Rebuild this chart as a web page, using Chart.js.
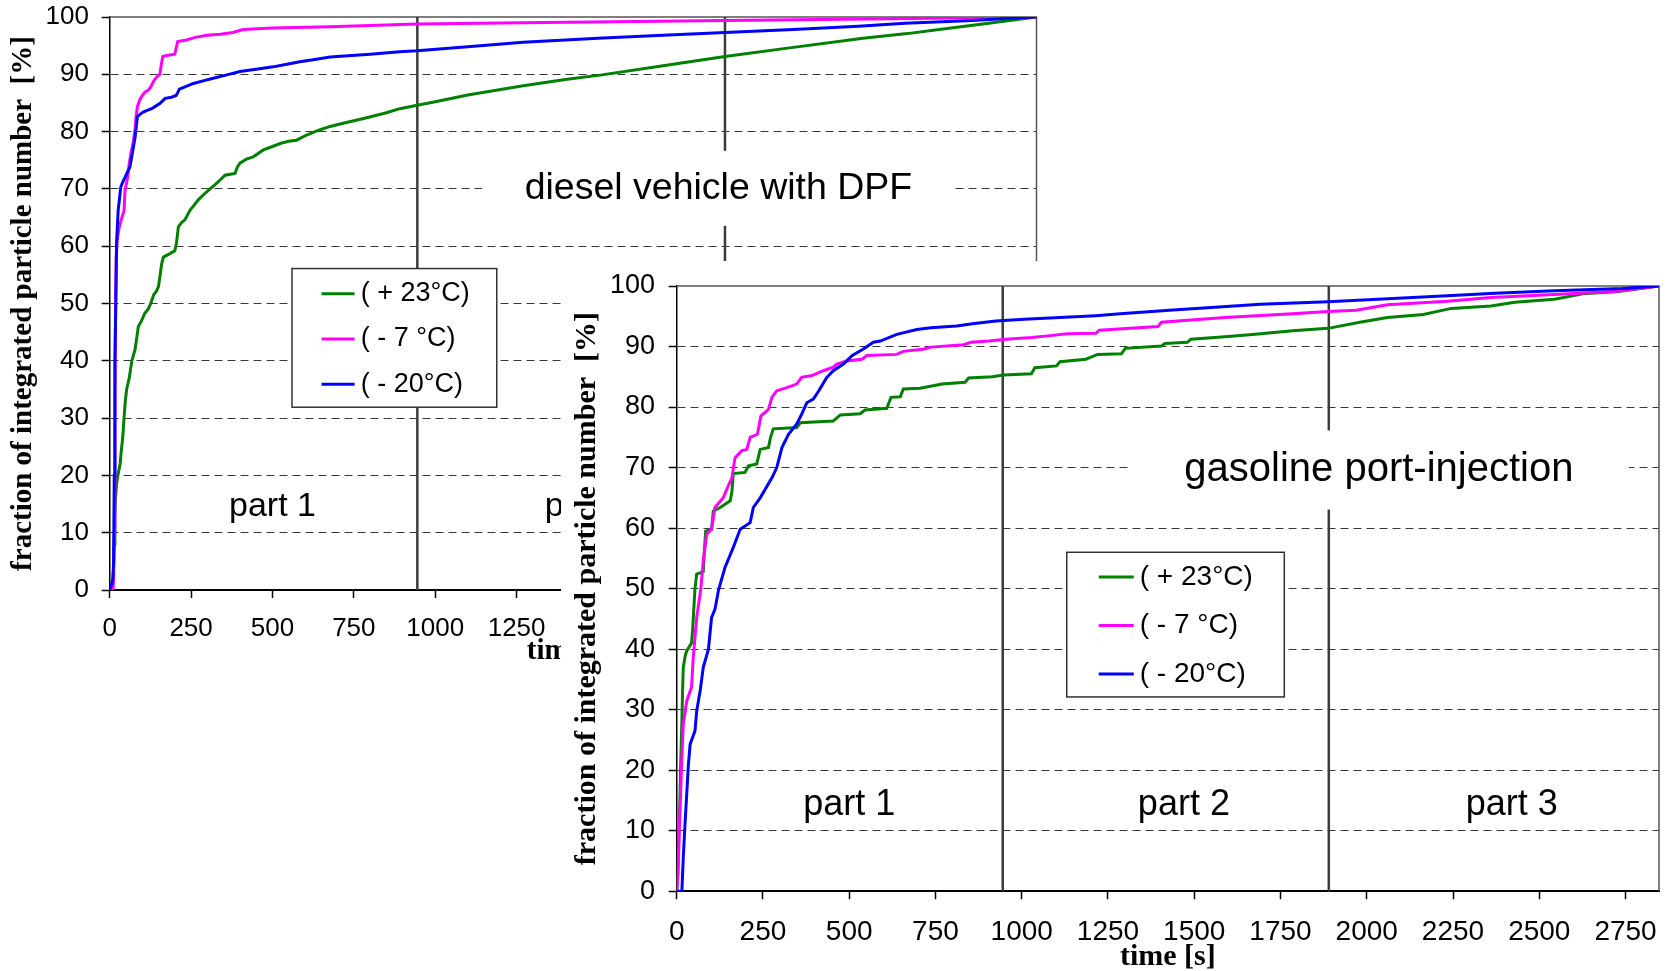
<!DOCTYPE html>
<html><head><meta charset="utf-8">
<script src="https://cdn.jsdelivr.net/npm/chart.js@4.4.0/dist/chart.umd.min.js"></script>
<style>
html,body{margin:0;padding:0;background:#fff;width:1672px;height:971px;overflow:hidden;position:relative}
canvas{position:absolute;display:block}
#c1{left:0;top:0}
#c2{left:561px;top:261px;background:#fff}
</style></head><body>
<canvas id="c1" width="1060" height="680"></canvas>
<canvas id="c2" width="1111" height="710"></canvas>
<script>
// ---------------- data ----------------
const seriesLabels = ['( + 23°C)', '( - 7 °C)', '( - 20°C)'];
const seriesColors = ['#008000', '#FF00FF', '#0000FF'];
const xTicks = [0, 250, 500, 750, 1000, 1250, 1500, 1750, 2000, 2250, 2500, 2750];
const yTicks = [0, 10, 20, 30, 40, 50, 60, 70, 80, 90, 100];
const xMax = 2847;
const partBounds = [945, 1890];
const partLabels = ['part 1', 'part 2', 'part 3'];
const partLabelX = [500, 1470, 2420];

// diesel vehicle with DPF  [time s, fraction %]
const dieselP23 = [[0,0],[8,0.5],[12,4],[14,8],[16,13],[18,16],[21,18.4],[25,20],[32,22],[36,24.5],[40,26.6],[44,30],[48,33],[52,35],[60,37],[68,40],[73,41],[78,42],[88,46],[98,47],[108,48.3],[118,49],[126,50],[135,51.5],[144,52.2],[150,53],[154,54.6],[160,57],[165,58.1],[185,58.7],[200,59.2],[205,60.5],[211,63.4],[222,64.2],[231,64.6],[247,66.3],[260,67.2],[272,68.1],[285,68.8],[298,69.5],[310,70.1],[323,70.7],[340,71.6],[354,72.4],[385,72.7],[392,73.8],[400,74.5],[420,75.2],[441,75.6],[472,76.8],[500,77.4],[528,78],[550,78.3],[574,78.5],[605,79.4],[640,80.2],[677,80.9],[720,81.5],[780,82.3],[850,83.3],[891,84.0],[945,84.6],[1000,85.2],[1100,86.4],[1270,88.0],[1400,89.1],[1512,89.9],[1700,91.5],[1890,93.1],[2100,94.7],[2314,96.3],[2450,97.1],[2572,98.0],[2700,98.9],[2805,99.7],[2847,100]];
const dieselM7 = [[0,0],[10,0],[12,2],[14,10],[16,30],[18,50.5],[20,58],[23,61],[28,63],[35,64.5],[44,66.2],[47,69.7],[55,72],[60,74.4],[66,76.5],[72,78],[78,80.5],[81,82.6],[85,84.3],[92,85.5],[98,86.1],[108,86.9],[118,87.2],[124,87.6],[137,89],[146,89.6],[154,90],[158,91.5],[163,93.1],[175,93.3],[190,93.4],[200,93.5],[205,94.8],[209,95.7],[236,96.0],[260,96.4],[298,96.8],[340,97.0],[379,97.3],[410,97.8],[500,98.1],[677,98.3],[945,98.8],[1270,99.0],[1890,99.4],[2400,99.7],[2847,100]];
const dieselM20 = [[0,0],[6,1],[10,2],[12,5],[14,20],[16,40],[19,50.5],[21,60.5],[26,66.2],[34,70.3],[40,71.2],[47,72],[55,73],[62,73.8],[71,76.7],[78,79],[82,81],[85,82.6],[95,83.1],[103,83.4],[115,83.7],[129,84],[140,84.4],[154,84.9],[165,85.5],[170,85.8],[190,86],[204,86.3],[209,86.8],[214,87.4],[235,87.9],[257,88.4],[290,88.9],[318,89.3],[360,89.9],[400,90.5],[450,90.9],[502,91.3],[540,91.7],[584,92.2],[630,92.6],[677,93.0],[800,93.5],[891,93.95],[945,94.1],[1100,94.8],[1270,95.6],[1500,96.3],[1700,96.8],[1890,97.3],[2100,97.8],[2300,98.4],[2443,98.9],[2650,99.4],[2805,99.9],[2847,100]];

// gasoline port-injection  [time s, fraction %]
const gasP23 = [[0,0],[3,3],[8,12],[12,22],[15,28],[17,33],[19,37],[25,39],[29,39.7],[43,41],[46,43],[48,45],[53,50],[58,52.4],[77,52.8],[80,56],[84,59.5],[101,59.8],[106,62.8],[126,63.4],[155,64.5],[160,66],[164,69],[198,69.2],[208,70.3],[232,70.6],[242,73],[266,73.3],[272,75],[280,76.4],[348,76.6],[358,77.4],[454,77.7],[474,78.7],[532,78.9],[546,79.5],[609,79.8],[621,81.6],[648,81.7],[657,83.0],[706,83.1],[769,83.8],[836,84.1],[846,84.8],[915,85.0],[946,85.3],[1028,85.5],[1038,86.5],[1101,86.8],[1111,87.5],[1186,87.9],[1220,88.7],[1289,88.8],[1300,89.7],[1405,90.1],[1415,90.5],[1480,90.7],[1490,91.2],[1589,91.6],[1669,92.0],[1785,92.6],[1888,93.0],[1980,94.0],[2060,94.8],[2164,95.3],[2245,96.3],[2360,96.7],[2429,97.3],[2544,97.8],[2626,98.7],[2729,99.1],[2820,99.8],[2847,100]];
const gasM7 = [[0,0],[4,3],[8,11],[15,22],[19,27.6],[29,31.4],[43,33.7],[48,38.6],[58,45.2],[70,50],[77,54.6],[87,59],[101,59.8],[111,63.4],[135,65],[145,66.4],[160,68.3],[169,71.6],[189,72.8],[203,73],[213,75],[234,75.5],[244,78.5],[266,79.6],[276,81.6],[290,82.7],[319,83.2],[348,83.8],[362,84.9],[392,85.2],[425,86.0],[454,86.6],[464,87.1],[493,87.6],[537,87.9],[551,88.5],[638,88.7],[657,89.2],[718,89.6],[737,89.9],[832,90.3],[853,90.7],[905,90.9],[955,91.2],[1028,91.5],[1083,91.8],[1132,92.1],[1215,92.2],[1225,92.7],[1395,93.3],[1405,94.0],[1589,94.8],[1785,95.4],[1888,95.8],[1969,96.0],[2060,96.9],[2234,97.5],[2360,98.1],[2544,98.6],[2717,99.1],[2808,99.7],[2847,100]];
const gasM20 = [[0,0],[15,0],[19,5.5],[24,11],[34,21],[39,24.3],[53,26.5],[58,29.8],[68,33.1],[77,37],[92,40],[101,45.2],[111,46.6],[121,49.7],[140,53.5],[164,56.8],[184,59.8],[213,60.9],[222,63.4],[242,65],[276,68.3],[290,70],[305,73.3],[324,75.5],[348,77.2],[362,78.8],[377,80.7],[396,81.3],[411,82.6],[435,84.9],[454,86],[483,87.1],[508,88.5],[541,89.6],[570,90.7],[590,90.9],[638,92],[696,92.8],[737,93.1],[811,93.4],[863,93.8],[925,94.2],[1007,94.5],[1111,94.8],[1214,95.1],[1286,95.4],[1428,96.0],[1692,97.0],[1888,97.4],[2234,98.4],[2372,98.8],[2544,99.2],[2741,99.6],[2847,100]];

// ---------------- drawing ----------------
const SANS = "'Liberation Sans', Arial, sans-serif";
const SERIF = "'Liberation Serif', 'Times New Roman', serif";
const toPts = arr => arr.map(p => ({x: p[0], y: p[1]}));

function makeChart(id, series, L) {
  const decor = {
    id: 'decor',
    beforeDatasetsDraw(chart) {
      const {ctx, chartArea: a, scales: {x}} = chart;
      ctx.save();
      ctx.strokeStyle = '#555'; ctx.lineWidth = 1.5;
      ctx.beginPath(); ctx.moveTo(a.left, a.top); ctx.lineTo(a.right, a.top); ctx.lineTo(a.right, a.bottom); ctx.stroke();
      ctx.strokeStyle = '#3c3c3c'; ctx.lineWidth = 2.5;
      partBounds.forEach(v => {
        const px = x.getPixelForValue(v);
        ctx.beginPath(); ctx.moveTo(px, a.top); ctx.lineTo(px, a.bottom); ctx.stroke();
      });
      ctx.restore();
    },
    afterDatasetsDraw(chart) {
      const {ctx, scales: {x, y}} = chart;
      ctx.save();
      ctx.textBaseline = 'middle';
      const nx = x.getPixelForValue(L.note.x), ny = y.getPixelForValue(L.note.y);
      ctx.fillStyle = '#fff';
      ctx.fillRect(nx - L.note.w / 2, ny - L.note.h / 2, L.note.w, L.note.h);
      ctx.fillStyle = '#000'; ctx.textAlign = 'center';
      ctx.font = L.note.size + 'px ' + SANS;
      ctx.fillText(L.note.text, nx, ny);
      ctx.font = L.partSize + 'px ' + SANS;
      partLabels.forEach((t, i) => ctx.fillText(t, x.getPixelForValue(partLabelX[i]), y.getPixelForValue(L.partY)));
      const g = L.legend;
      const lx0 = x.getPixelForValue(g.x0), lx1 = x.getPixelForValue(g.x1);
      const ly0 = y.getPixelForValue(g.y0), ly1 = y.getPixelForValue(g.y1);
      ctx.fillStyle = '#fff';
      ctx.fillRect(lx0, ly0, lx1 - lx0, ly1 - ly0);
      ctx.strokeStyle = '#333'; ctx.lineWidth = 1.5;
      ctx.strokeRect(lx0, ly0, lx1 - lx0, ly1 - ly0);
      ctx.font = g.size + 'px ' + SANS; ctx.textAlign = 'left';
      seriesLabels.forEach((lab, i) => {
        const ry = y.getPixelForValue(g.rows[i]);
        ctx.strokeStyle = seriesColors[i]; ctx.lineWidth = 3;
        ctx.beginPath(); ctx.moveTo(lx0 + g.l0, ry); ctx.lineTo(lx0 + g.l1, ry); ctx.stroke();
        ctx.fillStyle = '#000';
        ctx.fillText(lab, lx0 + g.t, ry);
      });
      ctx.restore();
    }
  };

  const order = [2, 1, 0];
  return new Chart(document.getElementById(id), {
    type: 'line',
    data: {
      datasets: series.map((s, i) => ({
        label: seriesLabels[i], data: toPts(s), borderColor: seriesColors[i],
        borderWidth: 3, pointRadius: 0, tension: 0, fill: false, order: order[i]
      }))
    },
    options: {
      responsive: false, animation: false, devicePixelRatio: 1,
      layout: {padding: L.pad},
      plugins: {legend: {display: false}, tooltip: {enabled: false}},
      scales: {
        x: {
          type: 'linear', min: 0, max: xMax,
          afterBuildTicks: s => { s.ticks = xTicks.map(v => ({value: v})); },
          afterFit: s => { s.height = L.xHeight; s.paddingLeft = 0; s.paddingRight = 0; },
          ticks: {font: {family: SANS, size: L.xTickSize, lineHeight: 1.2}, color: '#000', padding: L.xTickPad,
                  maxRotation: 0, autoSkip: false, callback: v => String(v)},
          grid: {drawOnChartArea: false, drawTicks: true, tickLength: 8, tickColor: '#000', tickWidth: 1.5},
          border: {color: '#000', width: 2},
          title: {display: true, text: 'time [s]', color: '#000',
                  font: {family: SERIF, weight: 'bold', size: L.titleSize, lineHeight: 1.0},
                  padding: {top: 0, bottom: L.xTitlePad}}
        },
        y: {
          type: 'linear', min: 0, max: 100,
          afterBuildTicks: s => { s.ticks = yTicks.map(v => ({value: v})); },
          afterFit: s => { s.width = L.yWidth; s.paddingTop = 0; s.paddingBottom = 0; },
          ticks: {font: {family: SANS, size: L.yTickSize, lineHeight: 1.2}, color: '#000', padding: L.yTickPad,
                  callback: v => String(v)},
          grid: {color: c => (c.tick && (c.tick.value === 0 || c.tick.value === 100)) ? 'rgba(0,0,0,0)' : '#383838',
                 lineWidth: 1, drawTicks: true, tickLength: 8, tickColor: '#000', tickWidth: 1.5},
          border: {color: '#000', width: 1.5, dash: [8, 5]},
          title: {display: true, text: 'fraction of integrated particle number  [%]', color: '#000',
                  font: {family: SERIF, weight: 'bold', size: L.titleSize, lineHeight: 1.0},
                  padding: {top: L.yTitlePad, bottom: 0}}
        }
      }
    },
    plugins: [decor]
  });
}

makeChart('c1', [dieselP23, dieselM7, dieselM20], {
  pad: {top: 17, right: 23.5, left: 0, bottom: 0},
  xHeight: 90, yWidth: 109.7, xTickSize: 26, yTickSize: 26, xTickPad: 15.5, yTickPad: 12.7,
  titleSize: 29, xTitlePad: 13.5, yTitlePad: 9.5,
  note: {text: 'diesel vehicle with DPF', x: 1870, y: 70.1, w: 472, h: 75, size: 37.5},
  legend: {x0: 560, x1: 1189, y0: 56.1, y1: 31.9, rows: [51.7, 43.8, 35.9], l0: 29.5, l1: 62.6, t: 68.7, size: 27},
  partSize: 34, partY: 14.6
});

makeChart('c2', [gasP23, gasM7, gasM20], {
  pad: {top: 25, right: 13, left: 0, bottom: 0},
  xHeight: 79.8, yWidth: 115.7, xTickSize: 28, yTickSize: 27, xTickPad: 16, yTickPad: 13.7,
  titleSize: 30, xTitlePad: -1.5, yTitlePad: 11,
  note: {text: 'gasoline port-injection', x: 2035, y: 69.6, w: 500, h: 79, size: 40},
  legend: {x0: 1130.5, x1: 1761, y0: 56.0, y1: 32.1, rows: [51.9, 43.9, 35.9], l0: 32, l1: 67, t: 73, size: 28},
  partSize: 36, partY: 14.3
});
</script>
</body></html>
